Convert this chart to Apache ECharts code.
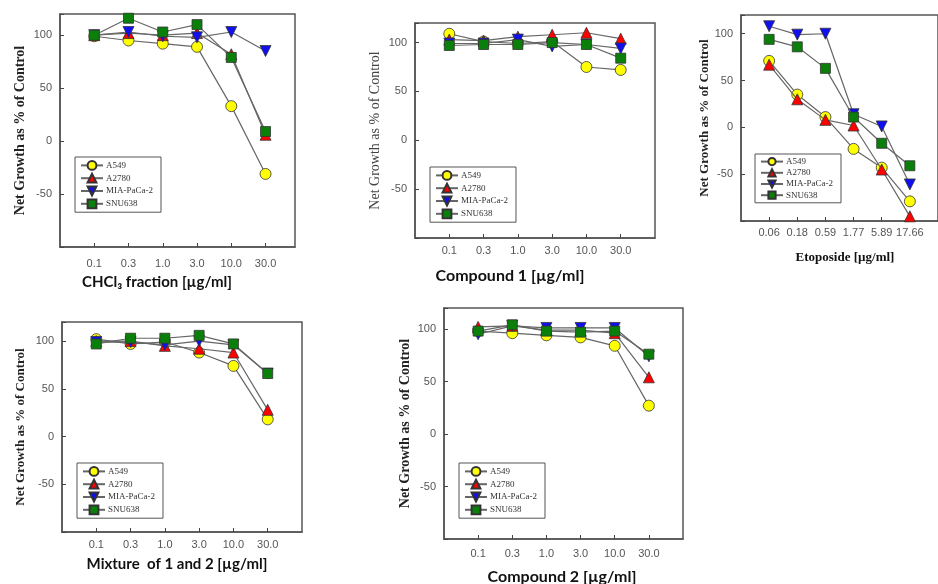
<!DOCTYPE html>
<html>
<head>
<meta charset="utf-8">
<script src="https://cdn.jsdelivr.net/npm/echarts@6/dist/echarts.min.js"></script>
<style>
  html, body { margin: 0; padding: 0; background: #fff; }
  #main { width: 938px; height: 584px; }
</style>
</head>
<body>
<div id="main"></div>
<script>
var cellLines = ['A549', 'A2780', 'MIA-PaCa-2', 'SNU638'];
var doseLabels = ['0.1', '0.3', '1.0', '3.0', '10.0', '30.0'];
var etoposideLabels = ['0.06', '0.18', '0.59', '1.77', '5.89', '17.66'];
var yTickLabels = [-50, 0, 50, 100];

// one row per cell line, same order as cellLines
var chcl3Values = [
    [99, 95, 92, 89, 33, -31],
    [100, 102, 100, 102, 82, 6],
    [100, 103, 99, 98, 103, 85],
    [100, 116, 103, 110, 79, 9]
];
var compound1Values = [
    [109, 101, 99, 101, 75, 72],
    [103, 102, 106, 108, 110, 104],
    [99, 99, 103, 96, 98, 94],
    [97, 98, 98, 100, 98, 84]
];
var etoposideValues = [
    [71, 35, 11, -23, -43, -79],
    [67, 30, 8, 2, -45, -95],
    [108, 99, 100, 14, 1, -61],
    [94, 86, 63, 11, -17, -41]
];
var mixtureValues = [
    [102, 97, 99, 88, 74, 18],
    [100, 100, 95, 92, 88, 28],
    [99, 99, 96, 100, 96, 66],
    [97, 103, 103, 106, 97, 66]
];
var compound2Values = [
    [98, 96, 94, 92, 84, 27],
    [102, 103, 99, 99, 96, 54],
    [95, 103, 101, 101, 101, 74],
    [98, 104, 98, 97, 98, 76]
];

var markers = [
    { symbol: 'circle', size: 11, color: '#ffff00' },
    { symbol: 'triangle', size: 11, color: '#ff0000' },
    { symbol: 'path://M0,0 L10,0 L5,9 Z', size: 11, color: '#1010ee' },
    { symbol: 'rect', size: 10, color: '#0a800a' }
];

var panels = [
    { values: chcl3Values, labels: doseLabels, grid: [60, 14, 235, 233], xmax: 6.86, labelMargin: 11,
      yGap: 33, yFont: 14, yBold: true, legend: [75, 157, 11], title: 'CHCl₃ fraction [µg/ml]', titlePos: [157, 282],
      titleFont: 'bold 15px Lato' },
    { values: compound1Values, labels: doseLabels, grid: [415, 23, 240, 215], xmax: 7, labelMargin: 7,
      yGap: 33, yFont: 14, yBold: false, legend: [430, 167, 11], title: 'Compound 1 [µg/ml]', titlePos: [510, 276],
      titleFont: 'bold 16px Lato' },
    { values: etoposideValues, labels: etoposideLabels, grid: [741, 15, 211, 206], xmax: 7, labelMargin: 6,
      yGap: 30, yFont: 13, yBold: true, legend: [755, 154, 9], title: 'Etoposide [µg/ml]', titlePos: [845, 258],
      titleFont: 'bold 13px "Liberation Serif"' },
    { values: mixtureValues, labels: doseLabels, grid: [62, 322, 240, 210], xmax: 7, labelMargin: 7,
      yGap: 35, yFont: 13, yBold: true, legend: [77, 463, 11], title: 'Mixture  of 1 and 2 [µg/ml]', titlePos: [177, 564],
      titleFont: 'bold 15px Lato' },
    { values: compound2Values, labels: doseLabels, grid: [444, 308, 239, 231], xmax: 7, labelMargin: 9,
      yGap: 32, yFont: 14, yBold: true, legend: [459, 463, 11], title: 'Compound 2 [µg/ml]', titlePos: [562, 577],
      titleFont: 'bold 16px Lato' }
];

var grids = [], xAxes = [], yAxes = [], legends = [], series = [], texts = [];

panels.forEach(function (p, i) {
    grids.push({
        left: p.grid[0], top: p.grid[1], width: p.grid[2], height: p.grid[3],
        show: true, borderColor: '#555', borderWidth: 1.5, backgroundColor: 'transparent'
    });
    xAxes.push({
        type: 'value', gridIndex: i, min: 0, max: p.xmax, interval: 1,
        axisLine: { show: true, onZero: false, lineStyle: { color: '#555', width: 1.5 } },
        axisTick: { show: true, inside: true, length: 4, lineStyle: { color: '#444', width: 1 } },
        splitLine: { show: false },
        axisLabel: {
            margin: p.labelMargin, color: '#555', fontSize: 11, fontFamily: 'Liberation Sans',
            showMinLabel: false, showMaxLabel: false,
            formatter: (function (labels) {
                return function (v) {
                    return (v >= 1 && v <= 6 && v === Math.round(v)) ? labels[v - 1] : '';
                };
            })(p.labels)
        }
    });
    yAxes.push({
        type: 'value', gridIndex: i, min: -100, max: 120, interval: 50,
        name: 'Net Growth as % of Control', nameLocation: 'middle', nameRotate: 90, nameGap: p.yGap,
        nameTextStyle: {
            fontFamily: 'Liberation Serif', fontSize: p.yFont,
            fontWeight: p.yBold ? 'bold' : 'normal', color: p.yBold ? '#222' : '#444'
        },
        axisLine: { show: true, onZero: false, lineStyle: { color: '#555', width: 1.5 } },
        axisTick: { show: true, inside: true, length: 4, lineStyle: { color: '#444', width: 1 } },
        splitLine: { show: false },
        axisLabel: {
            margin: 8, color: '#555', fontSize: 11, fontFamily: 'Liberation Sans',
            formatter: function (v) { return yTickLabels.indexOf(v) >= 0 ? String(v) : ''; }
        }
    });
    legends.push({
        data: cellLines, orient: 'vertical', left: p.legend[0], top: p.legend[1],
        itemWidth: 22, itemHeight: p.legend[2], itemGap: 2, padding: [3, 8, 3, 5],
        borderColor: '#555', borderWidth: 1, backgroundColor: '#fff',
        textStyle: { fontFamily: 'Liberation Serif', fontSize: 9, color: '#333', padding: [0, 0, 0, -2] }
    });
    p.values.forEach(function (vals, c) {
        series.push({
            name: cellLines[c], type: 'line', xAxisIndex: i, yAxisIndex: i,
            data: vals.map(function (v, k) { return [k + 1, v]; }),
            symbol: markers[c].symbol, symbolSize: markers[c].size,
            showAllSymbol: true, clip: false, animation: false,
            lineStyle: { color: '#666', width: 1.2 },
            itemStyle: { color: markers[c].color, borderColor: '#333', borderWidth: 0.8 },
            z: 2 + c
        });
    });
    texts.push({
        type: 'text', x: p.titlePos[0], y: p.titlePos[1],
        style: { text: p.title, font: p.titleFont, fill: '#111', textAlign: 'center', textVerticalAlign: 'middle' }
    });
});

var chart = echarts.init(document.getElementById('main'));
chart.setOption({
    animation: false,
    grid: grids,
    xAxis: xAxes,
    yAxis: yAxes,
    legend: legends,
    series: series,
    graphic: texts
});

window.addEventListener('resize', function () {
    chart.resize();
});
</script>
</body>
</html>
